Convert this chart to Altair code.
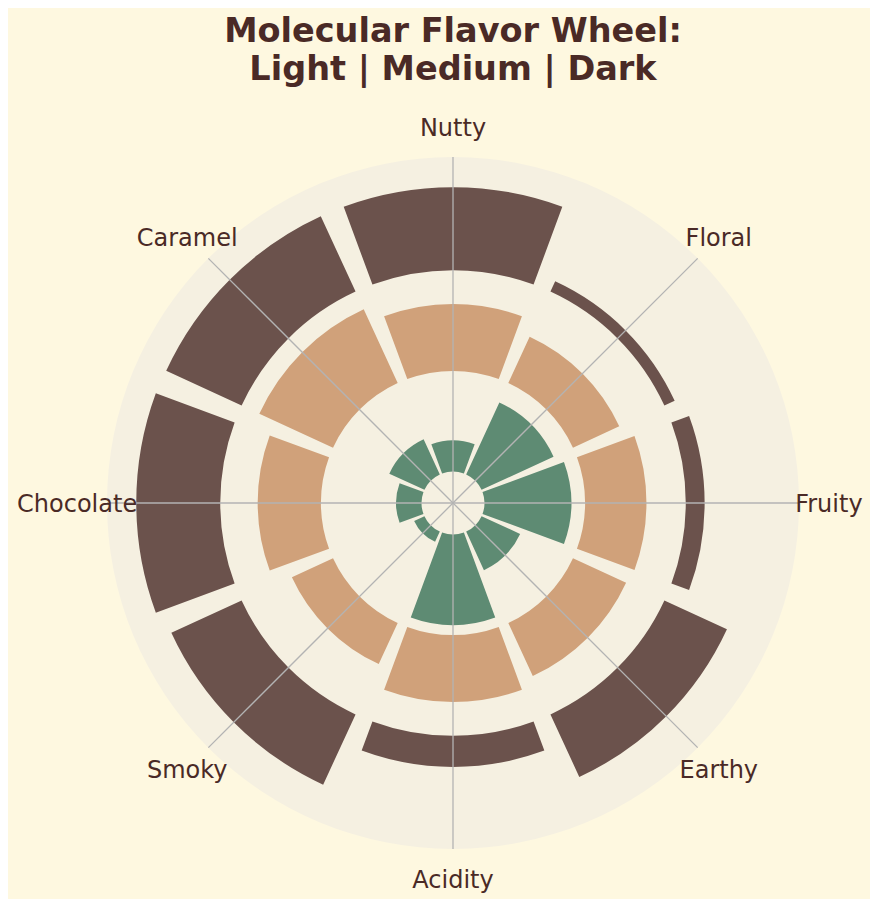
import altair as alt
import pandas as pd

categories = ['Nutty', 'Floral', 'Fruity', 'Earthy', 'Acidity', 'Smoky', 'Chocolate', 'Caramel']
light = [3.3, 8.4, 9.2, 4.5, 9.6, 1.2, 2.7, 4.1]
medium = [7.1, 5.4, 6.5, 6.2, 7.1, 4.8, 6.7, 8.6]
dark = [8.8, 1.2, 2.0, 7.3, 3.3, 8.2, 8.9, 8.8]

roasts = ['Light', 'Medium', 'Dark']
ring_base = [1.0, 4.2, 7.4]      # inner radius of each ring
ring_scale = 0.3                 # radial units per intensity point
colors = ['#5e8b73', '#d0a17a', '#6b524c']

R_MAX = 11.0
LABEL_R = 11.95
PX = 346                         # outer radius in pixels

step = 360 / len(categories)
half = step * 0.9 / 2

#Tabela das barras
rows = []
for roast, base, vals in zip(roasts, ring_base, [light, medium, dark]):
    for i, (cat, v) in enumerate(zip(categories, vals)):
        rows.append(dict(roast=roast, flavor=cat, value=v,
                         t0=i * step - half, t1=i * step + half,
                         r0=base, r1=base + v * ring_scale))
bars_df = pd.DataFrame(rows)

angles = [i * step for i in range(len(categories))]
labels_df = pd.DataFrame({'flavor': categories, 'angle': angles, 'r': LABEL_R})
grid_df = pd.DataFrame({'angle': angles, 'r': R_MAX, 'x0': 0.0, 'y0': 0.0})
disc_df = pd.DataFrame({'t0': [0], 't1': [360], 'r0': [0.0], 'r1': [R_MAX]})

theta_scale = alt.Scale(domain=[0, 360], range=[0, 6.283185307179586], nice=False, zero=False)
r_scale = alt.Scale(type='linear', domain=[0, R_MAX], range=[0, PX], nice=False)
xy_scale = alt.Scale(domain=[-R_MAX, R_MAX], nice=False, zero=False)

#Disco de fundo
disc = alt.Chart(disc_df).mark_arc(color='#f5f0e1').encode(
    theta=alt.Theta('t0:Q', scale=theta_scale, stack=None),
    theta2='t1:Q',
    radius=alt.Radius('r1:Q', scale=r_scale, stack=None),
    radius2='r0:Q',
)

#Barras dos tres aneis
bars = alt.Chart(bars_df).mark_arc().encode(
    theta=alt.Theta('t0:Q', scale=theta_scale, stack=None),
    theta2='t1:Q',
    radius=alt.Radius('r1:Q', scale=r_scale, stack=None),
    radius2='r0:Q',
    color=alt.Color('roast:N', scale=alt.Scale(domain=roasts, range=colors), legend=None),
    tooltip=['flavor:N', 'roast:N', 'value:Q'],
)

#Linhas radiais
grid = alt.Chart(grid_df).transform_calculate(
    x1='datum.r * sin(datum.angle * PI / 180)',
    y1='datum.r * cos(datum.angle * PI / 180)',
).mark_rule(color='#b3b3b3', strokeWidth=1.3).encode(
    x=alt.X('x0:Q', scale=xy_scale, axis=None),
    y=alt.Y('y0:Q', scale=xy_scale, axis=None),
    x2='x1:Q',
    y2='y1:Q',
)

#Rotulos
labels = alt.Chart(labels_df).mark_text(
    font='DejaVu Sans', fontSize=24, color='#4a2a26', align='center', baseline='middle', dy=2
).encode(
    theta=alt.Theta('angle:Q', scale=theta_scale, stack=None),
    radius=alt.Radius('r:Q', scale=r_scale, stack=None),
    text='flavor:N',
)

chart = alt.layer(disc, bars, grid, labels).properties(
    width=2 * PX,
    height=2 * PX,
    autosize=alt.AutoSizeParams(type='none'),
    padding={'left': 99, 'top': 149, 'right': 71, 'bottom': 50},
    background='#fef8e0',
    title=alt.TitleParams(
        text=['Molecular Flavor Wheel:', 'Light | Medium | Dark'],
        font='DejaVu Sans', fontSize=33.5, fontWeight='bold', color='#4a2a26',
        anchor='middle', frame='group', offset=71, dy=74, lineHeight=38, baseline='bottom',
    ),
).configure_view(stroke=None)

chart.save("out.html", embed_options={"renderer": "svg", "actions": False})
